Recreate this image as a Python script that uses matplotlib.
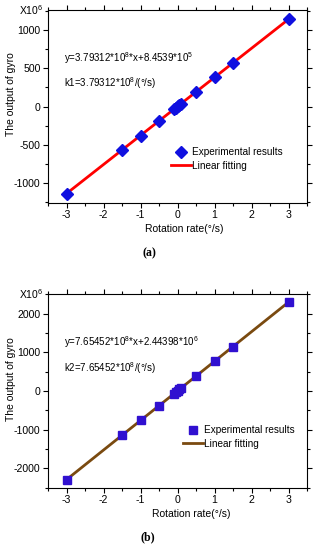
import numpy as np
import matplotlib.pyplot as plt
from matplotlib.ticker import MultipleLocator

# ---- data (values in units of 10^6) ----
RATE = [-3, -1.5, -1, -0.5, -0.1, -0.05, 0, 0.05, 0.1, 0.5, 1, 1.5, 3]
OUT_A = [-1138, -569, -379, -190, -38, -19, 1, 20, 39, 190, 380, 570, 1139]
OUT_B = [-2294, -1146, -763, -380, -74, -36, 2, 41, 79, 385, 768, 1150, 2298]

FIT_A = (379.312, 0.84539)   # slope, intercept (10^6)
FIT_B = (765.452, 2.44398)

EQ_A = ["y=3.79312*10$^8$*x+8.4539*10$^5$", "k1=3.79312*10$^8$/(°/s)"]
EQ_B = ["y=7.65452*10$^8$*x+2.44398*10$^6$", "k2=7.65452*10$^8$/(°/s)"]

plt.rcParams['font.family'] = ['Liberation Sans', 'DejaVu Sans']
plt.rcParams['mathtext.fontset'] = 'custom'
plt.rcParams['mathtext.rm'] = 'Liberation Sans'
plt.rcParams['axes.unicode_minus'] = False

W, H = 318, 550
fig = plt.figure(figsize=(W / 100, H / 100), dpi=100)


def panel(rect, y, fit, ylim, ymaj, ymin, eq, marker, mcolor, msize, lcolor, letter,
          legpos, cappos, xlab_x):
    ax = fig.add_axes(rect)
    x = np.array(RATE, dtype=float)
    xl = np.array([-3, 3])
    ax.plot(xl, fit[0] * xl + fit[1], color=lcolor, lw=2, zorder=2, label="Linear fitting")
    ax.plot(x, y, ls="none", marker=marker, ms=msize, color=mcolor, mec=mcolor, zorder=3,
            label="Experimental results")
    ax.set_xlim(-3.5, 3.5)
    ax.set_ylim(*ylim)
    ax.xaxis.set_major_locator(MultipleLocator(1))
    ax.xaxis.set_minor_locator(MultipleLocator(0.5))
    ax.yaxis.set_major_locator(MultipleLocator(ymaj))
    ax.yaxis.set_minor_locator(MultipleLocator(ymin))
    ax.tick_params(which="both", direction="out", top=True, right=True, labelsize=7.6, width=0.8)
    ax.tick_params(which="major", length=3.5, pad=1.8)
    ax.tick_params(which="minor", length=2)
    for s in ax.spines.values():
        s.set_linewidth(0.8)
    pos = ax.get_position()
    fig.text(xlab_x / W, pos.y0 - 26 / H, "Rotation rate(°/s)", ha="center", va="center",
             fontsize=7.5)
    # y label placed by hand so it sits clear of the tick labels
    fig.text(11 / W, pos.y0 + pos.height / 2 + 12 / H, "The output of gyro", rotation=90,
             ha="center", va="center", fontsize=7.5)
    ax.text(-0.02, 1.0, "X10$^6$", transform=ax.transAxes, ha="right", va="center", fontsize=7.5)
    ax.text(0.06, 0.73, eq[0], transform=ax.transAxes, fontsize=7)
    ax.text(0.06, 0.60, eq[1], transform=ax.transAxes, fontsize=7)
    h, l = ax.get_legend_handles_labels()
    ax.legend(h[::-1], l[::-1], loc="upper left", bbox_to_anchor=legpos, frameon=False,
              fontsize=7.2, handlelength=2.0, handletextpad=0.1, labelspacing=0.35, borderpad=0)
    fig.text(cappos[0], cappos[1], letter, ha="center", va="center", fontsize=8.5,
             fontweight="bold", family="Liberation Serif")
    return ax


# axes rects: left 48px, right 307px
panel([48 / W, 1 - 203 / H, 259 / W, 193 / H], OUT_A, FIT_A, (-1260, 1260), 500, 250,
      EQ_A, "D", "#1010e0", 6, "#ff0000", "(a)", (0.455, 0.315), (149 / W, 1 - 253 / H), 184)
panel([48 / W, 1 - 488 / H, 259 / W, 194 / H], OUT_B, FIT_B, (-2510, 2510), 1000, 500,
      EQ_B, "s", "#3010d0", 5.5, "#7a4a10", "(b)", (0.5, 0.35), (148 / W, 1 - 537 / H), 191)

fig.savefig("out.png", dpi=100)
